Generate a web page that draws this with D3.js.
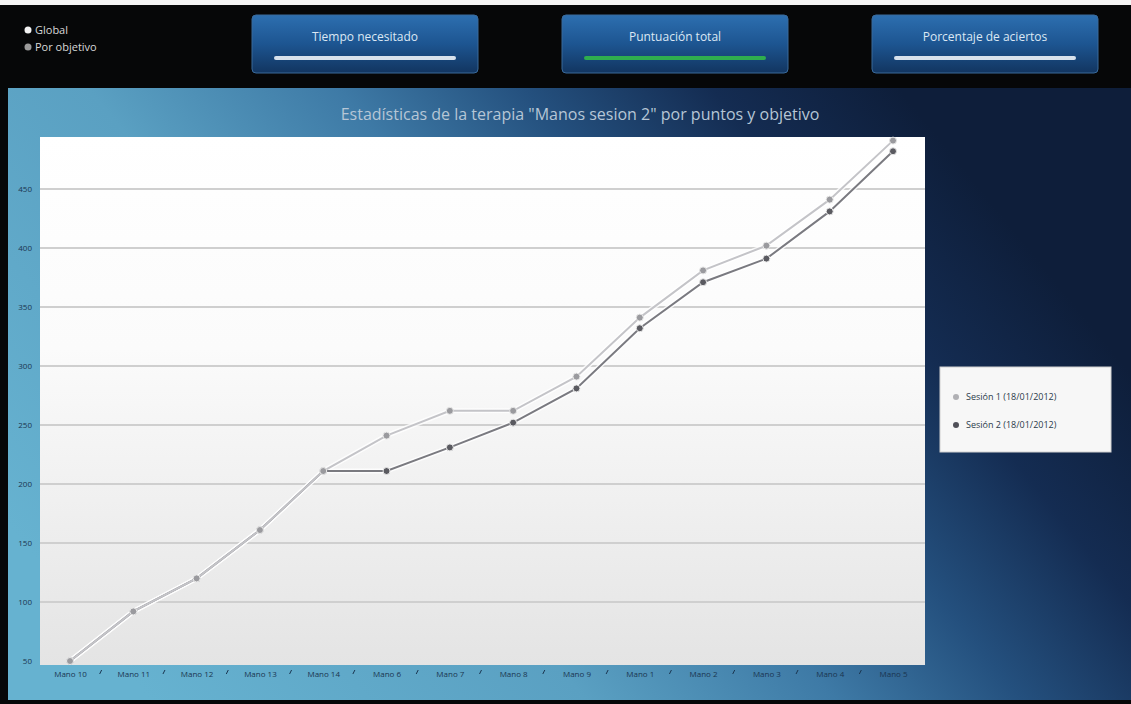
<!DOCTYPE html>
<html><head><meta charset="utf-8">
<script src="https://cdn.jsdelivr.net/npm/d3@7"></script>
<style>html,body{margin:0;padding:0;background:#fff;overflow:hidden}svg{display:block;font-family:"Open Sans","DejaVu Sans",sans-serif}</style>
</head><body>
<svg id="c" width="1131" height="704"></svg>
<script>
const categories = ["Mano 10","Mano 11","Mano 12","Mano 13","Mano 14","Mano 6","Mano 7","Mano 8","Mano 9","Mano 1","Mano 2","Mano 3","Mano 4","Mano 5"];
const sesion1 = [50, 92, 120, 161, 211, 241, 262, 262, 291, 341, 381, 402, 441, 491];
const sesion2 = [50, 92, 120, 161, 211, 211, 231, 252, 281, 332, 371, 391, 431, 482];
const seriesNames = ["Sesión 1 (18/01/2012)", "Sesión 2 (18/01/2012)"];
const yTicks = [50, 100, 150, 200, 250, 300, 350, 400, 450];
const buttons = ["Tiempo necesitado", "Puntuación total", "Porcentaje de aciertos"];
const topLegend = ["Global", "Por objetivo"];
const title = "Estadísticas de la terapia \"Manos sesion 2\" por puntos y objetivo";

const svg = d3.select("#c");
const defs = svg.append("defs");

// page background
svg.append("rect").attr("width",1131).attr("height",704).attr("fill","#060708");
svg.append("rect").attr("width",1131).attr("height",5).attr("fill","#f4f4f4");

// main panel gradient (light bottom-left -> dark top-right)
const pg = defs.append("linearGradient").attr("id","panel").attr("gradientUnits","userSpaceOnUse")
  .attr("x1",150).attr("y1",700).attr("x2",900).attr("y2",90);
pg.append("stop").attr("offset","0").attr("stop-color","#66b2d0");
pg.append("stop").attr("offset","0.35").attr("stop-color","#5aa0c2");
pg.append("stop").attr("offset","0.55").attr("stop-color","#3e7aa6");
pg.append("stop").attr("offset","0.7").attr("stop-color","#24507e");
pg.append("stop").attr("offset","0.85").attr("stop-color","#142c52");
pg.append("stop").attr("offset","1").attr("stop-color","#0e1e3a");
svg.append("rect").attr("x",8).attr("y",88).attr("width",1123).attr("height",612).attr("fill","url(#panel)");

// top legend
topLegend.forEach((t,i)=>{
  const g = svg.append("g").attr("transform",`translate(28,${30+i*17})`);
  g.append("circle").attr("r",3.5).attr("cx",0).attr("cy",0).attr("fill", i===0 ? "#f2f2f2" : "#9a9a9a");
  g.append("text").attr("x",7).attr("y",4).attr("fill","#d8d8d8").attr("font-size",11).text(t);
});

// buttons
const bg = defs.append("linearGradient").attr("id","btn").attr("x1","0").attr("y1","0").attr("x2","0").attr("y2","1");
bg.append("stop").attr("offset","0").attr("stop-color","#2d6fb0");
bg.append("stop").attr("offset","0.5").attr("stop-color","#1d5591");
bg.append("stop").attr("offset","1").attr("stop-color","#123560");
const bx = [252, 562, 872];
buttons.forEach((b,i)=>{
  const g = svg.append("g").attr("transform",`translate(${bx[i]},15)`);
  g.append("rect").attr("width",226).attr("height",58).attr("rx",4).attr("fill","url(#btn)").attr("stroke","#3a6a9a").attr("stroke-width",1);
  g.append("text").attr("x",113).attr("y",26).attr("text-anchor","middle").attr("fill","#dce8f4").attr("font-size",12).text(b);
  g.append("rect").attr("x",22).attr("y",41).attr("width",182).attr("height",4).attr("rx",2).attr("fill", i===1 ? "#2fae4e" : "#d8e2ec");
});

// title
svg.append("text").attr("x",580).attr("y",120).attr("text-anchor","middle").attr("fill","#b6c6d6").attr("font-size",16).text(title);

// plot area
const P = {l:40, t:137, r:925, b:665};
const ag = defs.append("linearGradient").attr("id","plot").attr("x1","0").attr("y1","0").attr("x2","0").attr("y2","1");
ag.append("stop").attr("offset","0").attr("stop-color","#ffffff");
ag.append("stop").attr("offset","0.4").attr("stop-color","#fbfbfb");
ag.append("stop").attr("offset","1").attr("stop-color","#e4e4e4");
svg.append("rect").attr("x",P.l).attr("y",P.t).attr("width",P.r-P.l).attr("height",P.b-P.t).attr("fill","url(#plot)");

const x = d3.scalePoint().domain(categories).range([70, 893]);
const y = d3.scaleLinear().domain([50, 450]).range([661, 189]);

// gridlines
svg.append("g").selectAll("line").data(yTicks.slice(1)).join("line")
  .attr("x1",P.l).attr("x2",P.r).attr("y1",d=>y(d)).attr("y2",d=>y(d))
  .attr("stroke","#cfcfcf").attr("stroke-width",2);

// y axis labels
const yAxis = d3.axisLeft(y).tickValues(yTicks).tickSize(0).tickPadding(8);
const ya = svg.append("g").attr("transform",`translate(${P.l},0)`).call(yAxis);
ya.select(".domain").remove();
ya.selectAll("text").attr("fill","#1a3550").attr("font-size",8).attr("font-family","'Open Sans',sans-serif");

// x axis labels
const xAxis = d3.axisBottom(x).tickSize(0).tickPadding(6);
const xa = svg.append("g").attr("transform",`translate(0,${P.b})`).call(xAxis);
xa.select(".domain").remove();
xa.selectAll("text").attr("fill","#1a3550").attr("font-size",8).attr("font-family","'Open Sans',sans-serif");
const step = x.step();
svg.append("g").selectAll("line").data(categories.slice(0,-1)).join("line")
  .attr("x1",d=>x(d)+step/2).attr("x2",d=>x(d)+step/2-2).attr("y1",P.b+5).attr("y2",P.b+9)
  .attr("stroke","#1a3550").attr("stroke-width",1);

// lines
const line = d3.line().x((d,i)=>x(categories[i])).y(d=>y(d));
const seriesData = [sesion1, sesion2];
const lineCol = ["#c4c4c8", "#7a7a80"];
const dotCol = ["#9a9a9e", "#5a5a60"];
[1,0].forEach(k=>{
  svg.append("path").datum(seriesData[k]).attr("d",line).attr("fill","none").attr("stroke","#ffffff").attr("stroke-width",5).attr("opacity",0.8);
});
[1,0].forEach(k=>{
  svg.append("path").datum(seriesData[k]).attr("d",line).attr("fill","none").attr("stroke",lineCol[k]).attr("stroke-width",2);
});
[1,0].forEach(k=>{
  svg.append("g").selectAll("circle").data(seriesData[k]).join("circle")
    .attr("cx",(d,i)=>x(categories[i])).attr("cy",d=>y(d)).attr("r",3.5)
    .attr("fill",dotCol[k]).attr("stroke","#e8e8e8").attr("stroke-width",1);
});

// legend
const lg = svg.append("g").attr("transform","translate(940,367)");
lg.append("rect").attr("width",171).attr("height",85).attr("fill","#f7f7f7").attr("stroke","#d0d0d0");
seriesNames.forEach((n,i)=>{
  lg.append("circle").attr("cx",16).attr("cy",30+i*28).attr("r",3).attr("fill", i===0 ? "#b0b0b4" : "#505058");
  lg.append("text").attr("x",26).attr("y",33+i*28).attr("fill","#2a3a4a").attr("font-size",9).text(n);
});
</script>
</body></html>
